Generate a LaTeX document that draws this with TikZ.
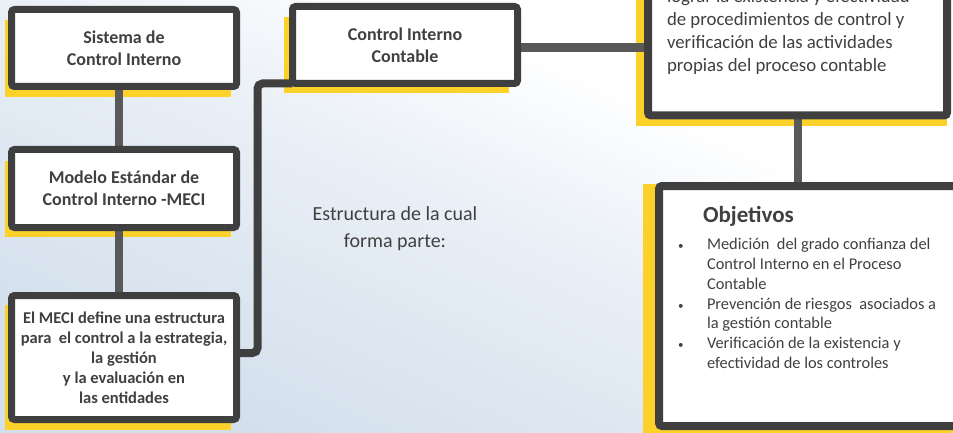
\documentclass[tikz,border=0pt]{standalone}
\usepackage{fontspec}
\setmainfont{Carlito}
\definecolor{txt}{HTML}{404040}
\definecolor{bord}{HTML}{3F3F3F}
\definecolor{gline}{HTML}{595959}
\definecolor{ylw}{HTML}{FCD22A}
\definecolor{bgA}{HTML}{D2DFEC}
\definecolor{bgB}{HTML}{E9EFF6}
\pgfdeclarelayer{bg}
\pgfsetlayers{bg,main}
\pgfdeclareverticalshading{bgshade}{100bp}{color(0bp)=(bgA); color(25bp)=(bgA); color(50bp)=(bgB); color(65bp)=(white); color(100bp)=(white)}
\newcommand{\smallbul}{{\fontsize{11}{11}\selectfont •}}
\begin{document}
\begin{tikzpicture}[x=1pt,y=-1pt,
  box/.style={draw=bord, line width=7pt, fill=white, rounded corners=3pt, inner sep=0pt, outer sep=0pt, text=txt, align=center},
  bigbox/.style={box, line width=8pt},
  shadowbar/.style={fill=ylw},
  gconn/.style={draw=gline, line width=8pt},
  dconn/.style={draw=bord, line width=8pt, rounded corners=5pt},
  lbl/.style={text=txt, inner sep=0pt, outer sep=0pt}]
\useasboundingbox (0,0) rectangle (953,433);

% boxes
\node[box, minimum width=225pt, minimum height=77pt, font=\fontsize{18}{22}\selectfont\bfseries] (b1) at (124,48) {Sistema de\\Control Interno};
\node[box, minimum width=225pt, minimum height=78pt, font=\fontsize{18}{22}\selectfont\bfseries] (b2) at (124,188.5) {Modelo Estándar de\\Control Interno -MECI};
\node[box, minimum width=225pt, minimum height=124pt, font=\fontsize{16.5}{20}\selectfont\bfseries] (b3) at (124,357.5) {El MECI define una estructura\\para\ \ el control a la estrategia,\\la gestión\\y la evaluación en\\las entidades};
\node[box, minimum width=225pt, minimum height=77pt, font=\fontsize{18}{22}\selectfont\bfseries] (cic) at (405,45) {Control Interno\\Contable};
\node[bigbox, minimum width=299pt, minimum height=135.5pt] (tr) at (797.5,47.75) {};
\node[bigbox, minimum width=331pt, minimum height=240pt] (obj) at (824.5,306) {};

% texts
\node[lbl, anchor=north west, align=left, font=\fontsize{18.8}{23}\selectfont] (trtext) at (667,-11) {lograr la existencia y efectividad\\de procedimientos de control y\\verificación de las actividades\\propias del proceso contable};
\node[lbl, align=center, font=\fontsize{20}{27}\selectfont] (estr) at (395,229) {Estructura de la cual\\forma parte:};
\node[lbl, anchor=base west, font=\fontsize{23}{28}\selectfont\bfseries] (objt) at (703,222) {Objetivos};
\node[lbl, anchor=north west, font=\fontsize{16.4}{19.7}\selectfont] (objl) at (678,236.2) {\begin{tabular}{@{}p{29pt}@{}l@{}}
\smallbul&Medición\ \ del grado confianza del\\
 &Control Interno en el Proceso\\
 &Contable\\
\smallbul&Prevención de riesgos\ \ asociados a\\
 &la gestión contable\\
\smallbul&Verificación de la existencia y\\
 &efectividad de los controles
\end{tabular}};

\begin{pgfonlayer}{bg}
  \shade[shading=bgshade, shading angle=-24] (0,0) rectangle (953,433);
  \fill[shadowbar] (5,20) rectangle (231,97);
  \fill[shadowbar] (5,161) rectangle (231,237);
  \fill[shadowbar] (5,305) rectangle (231,430);
  \fill[shadowbar] (284,17) rectangle (509,93);
  \fill[shadowbar] (636,-20) rectangle (947,126);
  \fill[shadowbar] (643,184) rectangle (980,445);
  \draw[gconn] ([xshift=-5pt]b1.south) -- ([xshift=-5pt]b2.north);
  \draw[gconn] ([xshift=-5pt]b2.south) -- ([xshift=-5pt]b3.north);
  \draw[dconn] ([yshift=4.5pt]b3.east) -- ++(21,0) |- (cic.south west);
  \draw[gconn, line width=9pt] ([yshift=-3pt]cic.east) -- ([yshift=-3pt]cic.east -| tr.west);
  \draw[gconn] (tr.south) -- (tr.south |- obj.north);
\end{pgfonlayer}
\end{tikzpicture}
\end{document}
